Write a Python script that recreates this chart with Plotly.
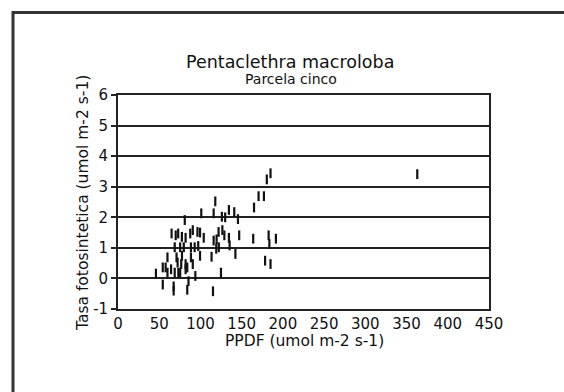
import plotly.graph_objects as go

# Data
ppdf = [363, 185, 180.5, 170.5, 177, 165, 118, 101, 116, 126, 130, 134.5, 141, 145.5, 81,
        65, 70, 73, 77.5, 82, 87.6, 90.7, 96.4, 99.5, 104, 116, 119.6, 122, 126.6, 129, 134.5,
        147, 164, 182.7, 191.5,
        68.8, 75.4, 79.8, 88.5, 93, 97.3, 119.2, 122.3, 135.4, 183.6,
        60, 71, 77.6, 88.5, 99.5, 113.5, 142.4, 178.4, 185,
        72.3, 76.7, 82, 90.7, 84, 54.3, 57.8, 64.4, 68.8, 73.2, 75.4, 82, 93.8, 124.9, 46, 60,
        54.3, 67.5, 67.5, 84, 85.5, 115.2]
tasa = [3.41, 3.44, 3.24, 2.69, 2.69, 2.32, 2.52, 2.13, 2.13, 2.02, 2.0, 2.24, 2.17, 1.94, 1.91,
        1.47, 1.41, 1.47, 1.36, 1.33, 1.47, 1.58, 1.52, 1.5, 1.33, 1.24, 1.28, 1.52, 1.58, 1.41, 1.33,
        1.41, 1.3, 1.41, 1.3,
        1.02, 1.02, 1.02, 1.02, 1.02, 1.06, 0.97, 1.02, 1.08, 1.13,
        0.69, 0.69, 0.74, 0.69, 0.74, 0.71, 0.8, 0.58, 0.47,
        0.52, 0.47, 0.47, 0.47, 0.36, 0.36, 0.36, 0.3, 0.19, 0.19, 0.19, 0.3, 0.08, 0.19, 0.16, 0.19,
        -0.2, -0.26, -0.4, -0.37, -0.09, -0.42]

x_ticks = [0, 50, 100, 150, 200, 250, 300, 350, 400, 450]
y_ticks = [-1, 0, 1, 2, 3, 4, 5, 6]

title = "Pentaclethra macroloba"
subtitle = "Parcela cinco"
x_title = "PPDF (umol m-2 s-1)"
y_title = "Tasa fotosintetica (umol m-2 s-1)"

W, H = 564, 392
L, R, T, B = 118, 489, 95, 309
FONT = "DejaVu Sans"

def px(xp):
    return (xp - L) / (R - L)

def py(yp):
    return (B - yp) / (B - T)

fig = go.Figure()
fig.add_trace(go.Scatter(
    x=ppdf, y=tasa, mode="markers",
    marker=dict(symbol="line-ns", size=7, line=dict(width=2.2, color="#111")),
    hoverinfo="x+y", showlegend=False,
))

fig.update_layout(
    width=W, height=H,
    margin=dict(l=L, r=W - R, t=T, b=H - B),
    paper_bgcolor="white", plot_bgcolor="white",
    font=dict(family=FONT, color="#111", size=15),
    xaxis=dict(range=[0, 450], tickvals=x_ticks, ticktext=[str(v) for v in x_ticks],
               showgrid=False, zeroline=False, showline=True, mirror=True,
               linecolor="#222", linewidth=1.8, ticks="", tickfont=dict(size=15)),
    yaxis=dict(range=[-1, 6], tickvals=y_ticks, ticktext=[str(v) for v in y_ticks],
               showgrid=True, gridcolor="#222", gridwidth=2, zeroline=False,
               showline=True, mirror=True, linecolor="#222", linewidth=1.8,
               ticks="outside", ticklen=5, tickcolor="#222", tickwidth=1.5,
               tickfont=dict(size=15)),
    annotations=[
        dict(text=title, x=px(290), y=py(62), xref="paper", yref="paper",
             showarrow=False, font=dict(size=17.5, family=FONT), xanchor="center", yanchor="middle"),
        dict(text=subtitle, x=px(291), y=py(79), xref="paper", yref="paper",
             showarrow=False, font=dict(size=14, family=FONT), xanchor="center", yanchor="middle"),
        dict(text=x_title, x=px(304), y=py(341), xref="paper", yref="paper",
             showarrow=False, font=dict(size=15.5, family=FONT), xanchor="center", yanchor="middle"),
        dict(text=y_title, x=px(83), y=py(203), xref="paper", yref="paper", textangle=-90,
             showarrow=False, font=dict(size=15.5, family=FONT), xanchor="center", yanchor="middle"),
    ],
    shapes=[
        dict(type="line", xref="paper", yref="paper", x0=px(13), x1=px(564), y0=py(12.5), y1=py(12.5),
             line=dict(color="#333", width=3)),
        dict(type="line", xref="paper", yref="paper", x0=px(13), x1=px(13), y0=py(11), y1=py(392),
             line=dict(color="#333", width=3)),
    ],
)

fig.write_html("out.html")
